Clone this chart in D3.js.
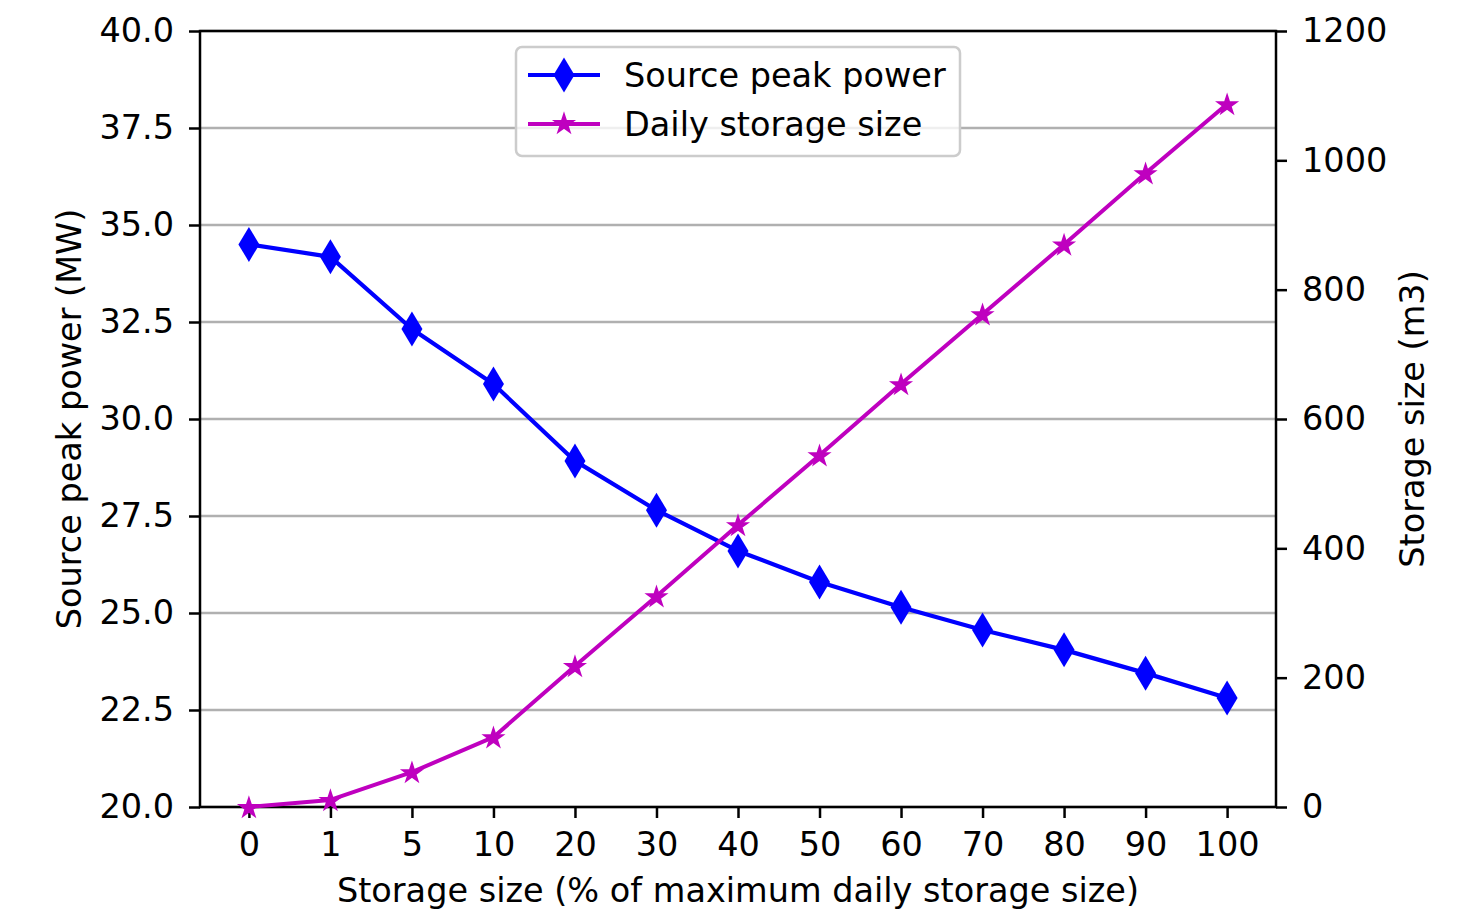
<!DOCTYPE html>
<html>
<head>
<meta charset="utf-8">
<script src="https://cdn.jsdelivr.net/npm/d3@7"></script>
<style>
  html, body { margin: 0; padding: 0; background: #fff; }
  svg text { font-family: 'DejaVu Sans', sans-serif; fill: #000; }
</style>
</head>
<body>
<div id="chart"></div>
<script>
'use strict'

// x categories (% of maximum daily storage size)
const storagePct = ['0', '1', '5', '10', '20', '30', '40', '50', '60', '70', '80', '90', '100']
// Source peak power (MW), left axis
const peakPower = [34.5, 34.18, 32.32, 30.9, 28.92, 27.65, 26.6, 25.8, 25.15, 24.56, 24.05, 23.45, 22.81]
// Daily storage size (m3), right axis
const dailyStorage = [0, 11, 54, 108, 218, 326, 436, 544, 654, 762, 870, 980, 1087]

const leftTicks = [20, 22.5, 25, 27.5, 30, 32.5, 35, 37.5, 40]
const rightTicks = [0, 200, 400, 600, 800, 1000, 1200]

const width = 1461
const height = 911
const margin = { top: 31, right: 185, bottom: 104, left: 200 }
const innerW = width - margin.left - margin.right
const innerH = height - margin.top - margin.bottom
const fontSize = 33.5
const blue = '#0000ff'
const magenta = '#bf00bf'

const svg = d3.select('#chart')
  .append('svg')
  .attr('width', width)
  .attr('height', height)

const g = svg.append('g')
  .attr('transform', `translate(${margin.left},${margin.top})`)

const n = storagePct.length
const pad = (n - 1) * 0.05
const x = d3.scaleLinear().domain([-pad, n - 1 + pad]).range([0, innerW])
const yL = d3.scaleLinear().domain([20, 40]).range([innerH, 0])
const yR = d3.scaleLinear().domain([0, 1200]).range([innerH, 0])

// grid lines from the left axis
g.append('g')
  .selectAll('line')
  .data(leftTicks)
  .enter()
  .append('line')
  .attr('x1', 0)
  .attr('x2', innerW)
  .attr('y1', d => yL(d))
  .attr('y2', d => yL(d))
  .attr('stroke', '#b0b0b0')
  .attr('stroke-width', 2.5)

// axes
const styleAxis = (sel) => {
  sel.select('.domain').remove()
  sel.selectAll('line').attr('stroke', '#000').attr('stroke-width', 2.5)
  sel.selectAll('text').style('font-size', fontSize + 'px')
}

g.append('g')
  .attr('transform', `translate(0,${innerH})`)
  .call(d3.axisBottom(x)
    .tickValues(d3.range(n))
    .tickFormat(i => storagePct[i])
    .tickSizeOuter(0)
    .tickSize(11)
    .tickPadding(14))
  .call(styleAxis)

g.append('g')
  .call(d3.axisLeft(yL)
    .tickValues(leftTicks)
    .tickFormat(d3.format('.1f'))
    .tickSizeOuter(0)
    .tickSize(11)
    .tickPadding(15))
  .call(styleAxis)

g.append('g')
  .attr('transform', `translate(${innerW},0)`)
  .call(d3.axisRight(yR)
    .tickValues(rightTicks)
    .tickFormat(d3.format('d'))
    .tickSizeOuter(0)
    .tickSize(11)
    .tickPadding(15))
  .call(styleAxis)

// frame
g.append('rect')
  .attr('width', innerW)
  .attr('height', innerH)
  .attr('fill', 'none')
  .attr('stroke', '#000')
  .attr('stroke-width', 2.5)

// axis labels
svg.append('text')
  .attr('x', margin.left + innerW / 2)
  .attr('y', 902)
  .attr('text-anchor', 'middle')
  .style('font-size', fontSize + 'px')
  .text('Storage size (% of maximum daily storage size)')

svg.append('text')
  .attr('transform', `translate(81,${margin.top + innerH / 2}) rotate(-90)`)
  .attr('text-anchor', 'middle')
  .style('font-size', fontSize + 'px')
  .text('Source peak power (MW)')

svg.append('text')
  .attr('transform', `translate(1424,${margin.top + innerH / 2}) rotate(-90)`)
  .attr('text-anchor', 'middle')
  .style('font-size', fontSize + 'px')
  .text('Storage size (m3)')

// marker shapes
const thinDiamond = (w, h) => {
  const p = d3.path()
  p.moveTo(0, -h / 2)
  p.lineTo(w / 2, 0)
  p.lineTo(0, h / 2)
  p.lineTo(-w / 2, 0)
  p.closePath()
  return p.toString()
}
const diamondPath = thinDiamond(21, 35)
const starPath = d3.symbol().type(d3.symbolStar).size(118)()

// series
const lineL = d3.line().x((d, i) => x(i)).y(d => yL(d))
const lineR = d3.line().x((d, i) => x(i)).y(d => yR(d))

g.append('path')
  .datum(peakPower)
  .attr('d', lineL)
  .attr('fill', 'none')
  .attr('stroke', blue)
  .attr('stroke-width', 4.2)
  .attr('stroke-linejoin', 'round')

g.append('g')
  .selectAll('path')
  .data(peakPower)
  .enter()
  .append('path')
  .attr('d', diamondPath)
  .attr('transform', (d, i) => `translate(${x(i)},${yL(d)})`)
  .attr('fill', blue)

g.append('path')
  .datum(dailyStorage)
  .attr('d', lineR)
  .attr('fill', 'none')
  .attr('stroke', magenta)
  .attr('stroke-width', 4)
  .attr('stroke-linejoin', 'round')

g.append('g')
  .selectAll('path')
  .data(dailyStorage)
  .enter()
  .append('path')
  .attr('d', starPath)
  .attr('transform', (d, i) => `translate(${x(i)},${yR(d) + 1})`)
  .attr('fill', magenta)
  .attr('stroke', magenta)
  .attr('stroke-width', 1.5)

// legend
const legend = svg.append('g').attr('transform', 'translate(516,47)')
legend.append('rect')
  .attr('width', 444)
  .attr('height', 109)
  .attr('rx', 6)
  .attr('fill', '#fff')
  .attr('fill-opacity', 0.8)
  .attr('stroke', '#cccccc')
  .attr('stroke-width', 2.5)

const legendItems = [
  { label: 'Source peak power', color: blue, marker: diamondPath },
  { label: 'Daily storage size', color: magenta, marker: starPath }
]
const item = legend.selectAll('g.item')
  .data(legendItems)
  .enter()
  .append('g')
  .attr('class', 'item')
  .attr('transform', (d, i) => `translate(0,${28 + i * 49})`)
item.append('line')
  .attr('x1', 12).attr('x2', 84)
  .attr('stroke', d => d.color)
  .attr('stroke-width', 4)
item.append('path')
  .attr('d', d => d.marker)
  .attr('transform', 'translate(48,0)')
  .attr('fill', d => d.color)
  .attr('stroke', d => d.color)
  .attr('stroke-width', (d, i) => i === 1 ? 1.5 : 0)
item.append('text')
  .attr('x', 108)
  .attr('dy', '0.36em')
  .style('font-size', fontSize + 'px')
  .text(d => d.label)
</script>
</body>
</html>
